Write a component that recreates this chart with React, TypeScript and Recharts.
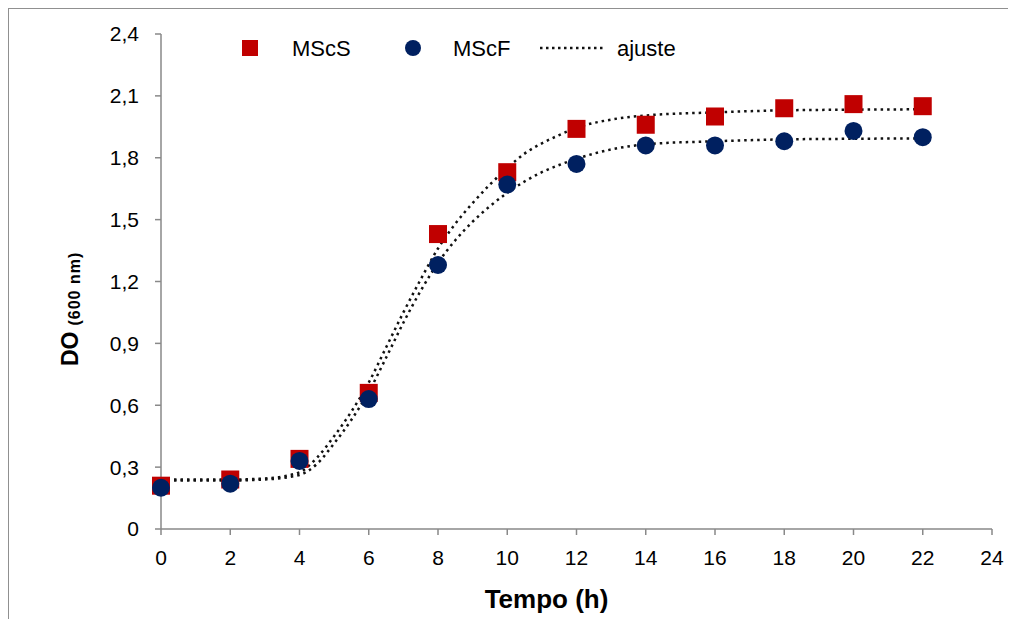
import React, { useEffect } from 'react';
import { ComposedChart, Line, Scatter, XAxis, YAxis, Label } from 'recharts';

// measured points (h, DO600)
const hours = [0, 2, 4, 6, 8, 10, 12, 14, 16, 18, 20, 22];
const msCS = [0.21, 0.24, 0.34, 0.66, 1.43, 1.73, 1.94, 1.96, 2.0, 2.04, 2.06, 2.05];
const msCF = [0.2, 0.22, 0.33, 0.63, 1.28, 1.67, 1.77, 1.86, 1.86, 1.88, 1.93, 1.9];

// fitted curves
const fitHours = [0, 1, 2, 3, 4, 4.5, 5, 5.5, 6, 6.5, 7, 7.5, 8, 8.5, 9, 9.5, 10, 10.5, 11, 11.5, 12, 13, 14, 16, 18, 20, 22];
const fitCS = [0.24, 0.24, 0.24, 0.245, 0.275, 0.345, 0.45, 0.57, 0.71, 0.88, 1.05, 1.21, 1.36, 1.48, 1.58, 1.67, 1.75, 1.82, 1.87, 1.91, 1.945, 1.985, 2.005, 2.02, 2.03, 2.033, 2.035];
const fitCF = [0.235, 0.235, 0.235, 0.24, 0.262, 0.315, 0.415, 0.53, 0.665, 0.83, 1.0, 1.155, 1.29, 1.4, 1.49, 1.565, 1.63, 1.685, 1.73, 1.765, 1.795, 1.84, 1.865, 1.88, 1.889, 1.892, 1.894];

const xTicks = [0, 2, 4, 6, 8, 10, 12, 14, 16, 18, 20, 22, 24];
const yTicks = [0, 0.3, 0.6, 0.9, 1.2, 1.5, 1.8, 2.1, 2.4];

const RED = '#C00000';
const NAVY = '#002060';
const AXIS = '#898989';
const FONT = '"Liberation Sans", Arial, sans-serif';

const toRows = (xs: number[], ys: number[]) => xs.map((t, i) => ({ t, v: ys[i] }));

const csData = toRows(hours, msCS);
const cfData = toRows(hours, msCF);
const fitCSData = toRows(fitHours, fitCS);
const fitCFData = toRows(fitHours, fitCF);

const formatDO = (v: number) => (v === 0 ? '0' : v.toFixed(1).replace('.', ','));

const Square = (props: any) => (
  <rect x={props.cx - 9} y={props.cy - 9} width={18} height={18} fill={RED} />
);
const Circle = (props: any) => <circle cx={props.cx} cy={props.cy} r={9} fill={NAVY} />;

const tickStyle = { fontSize: 21, fill: '#000', fontFamily: FONT };

const Legend = () => (
  <svg
    width={480}
    height={34}
    style={{ position: 'absolute', left: 211, top: 24, fontFamily: FONT }}
  >
    <rect x={22} y={7} width={16} height={16} fill={RED} />
    <text x={72} y={22.5} fontSize={22} fill="#000">MScS</text>
    <circle cx={193} cy={15} r={8} fill={NAVY} />
    <text x={233} y={22.5} fontSize={22} fill="#000">MScF</text>
    <line x1={320} y1={15} x2={386} y2={15} stroke="#111" strokeWidth={2.5} strokeDasharray="2.5 3.5" />
    <text x={397} y={22.5} fontSize={22} fill="#000">ajuste</text>
  </svg>
);

export default function App() {
  useEffect(() => {
    document.body.style.overflow = 'hidden';
  }, []);

  return (
    <div
      style={{
        position: 'relative',
        width: 1000,
        height: 611,
        borderLeft: '1px solid #909090',
        borderTop: '1px solid #909090',
      }}
    >
      <ComposedChart width={1000} height={611} margin={{ top: 25, right: 17, bottom: 31, left: 0 }}>
        <XAxis
          type="number"
          dataKey="t"
          domain={[0, 24]}
          ticks={xTicks}
          interval={0}
          height={60}
          tickSize={6}
          tickMargin={15}
          axisLine={{ stroke: AXIS, strokeWidth: 1.5 }}
          tickLine={{ stroke: AXIS, strokeWidth: 1.5 }}
          tick={tickStyle}
        >
          <Label
            content={() => (
              <text x={537.5} y={599} textAnchor="middle" fontSize={26} fontWeight="bold" fontFamily={FONT} fill="#000">
                Tempo (h)
              </text>
            )}
          />
        </XAxis>
        <YAxis
          type="number"
          domain={[0, 2.4]}
          ticks={yTicks}
          interval={0}
          width={152}
          tickSize={6}
          tickMargin={16}
          tickFormatter={formatDO}
          axisLine={{ stroke: AXIS, strokeWidth: 1.5 }}
          tickLine={{ stroke: AXIS, strokeWidth: 1.5 }}
          tick={tickStyle}
        >
          <Label
            content={() => (
              <text
                transform="translate(69,357) rotate(-90)"
                fontFamily={FONT}
                fontWeight="bold"
                fill="#000"
              >
                <tspan fontSize={23}>DO</tspan>
                <tspan fontSize={16} dx={6} dy={2} letterSpacing={1}>(600 nm)</tspan>
              </text>
            )}
          />
        </YAxis>
        <Line
          data={fitCSData}
          dataKey="v"
          type="monotone"
          stroke="#111"
          strokeWidth={2.5}
          strokeDasharray="2.5 4"
          dot={false}
          activeDot={false}
          isAnimationActive={false}
        />
        <Line
          data={fitCFData}
          dataKey="v"
          type="monotone"
          stroke="#111"
          strokeWidth={2.5}
          strokeDasharray="2.5 4"
          dot={false}
          activeDot={false}
          isAnimationActive={false}
        />
        <Scatter data={csData} dataKey="v" shape={Square} isAnimationActive={false} />
        <Scatter data={cfData} dataKey="v" shape={Circle} isAnimationActive={false} />
      </ComposedChart>
      <Legend />
    </div>
  );
}
